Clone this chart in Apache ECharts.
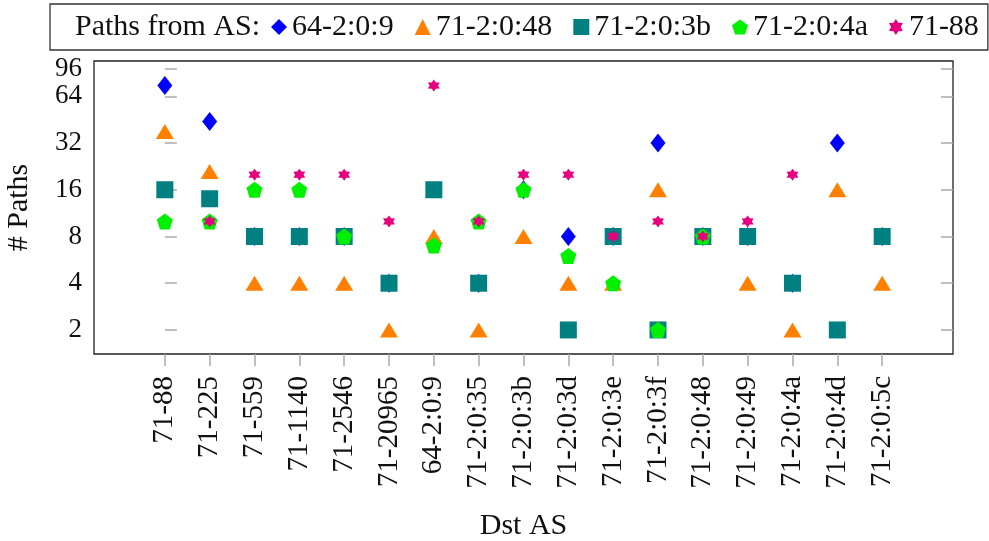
<!DOCTYPE html>
<html>
<head>
<meta charset="utf-8">
<script src="https://cdn.jsdelivr.net/npm/echarts@6/dist/echarts.min.js"></script>
<style>html,body{margin:0;padding:0;background:#fff}#c{width:989px;height:541px}</style>
</head>
<body>
<div id="c"></div>
<script>
const categories = ['71-88','71-225','71-559','71-1140','71-2546','71-20965','64-2:0:9','71-2:0:35','71-2:0:3b','71-2:0:3d','71-2:0:3e','71-2:0:3f','71-2:0:48','71-2:0:49','71-2:0:4a','71-2:0:4d','71-2:0:5c'];
const seriesNames = ['64-2:0:9','71-2:0:48','71-2:0:3b','71-2:0:4a','71-88'];
const from_64_2_0_9  = [75, 44, 8, 8, 8, 4, null, 4, 16, 8, 8, 32, 8, 8, 4, 32, 8];
const from_71_2_0_48 = [38, 21, 4, 4, 4, 2, 8, 2, 8, 4, 4, 16, null, 4, 2, 16, 4];
const from_71_2_0_3b = [16, 14, 8, 8, 8, 4, 16, 4, null, 2, 8, 2, 8, 8, 4, 2, 8];
const from_71_2_0_4a = [10, 10, 16, 16, 8, null, 7, 10, 16, 6, 4, 2, 8, null, null, null, null];
const from_71_88     = [null, 10, 20, 20, 20, 10, 75, 10, 20, 20, 8, 10, 8, 10, 20, null, null];
const yTicks = [2, 4, 8, 16, 32, 64, 96];

const PENTAGON = 'path://M0,-1L0.951,-0.309L0.588,0.809L-0.588,0.809L-0.951,-0.309Z';
const ASTER = 'path://M0,-1L0.3,-0.52L0.866,-0.5L0.6,0L0.866,0.5L0.3,0.52L0,1L-0.3,0.52L-0.866,0.5L-0.6,0L-0.866,-0.5L-0.3,-0.52Z';
const FONT = 'Liberation Serif';

function pts(arr){ const out=[]; arr.forEach((v,i)=>{ if(v!=null) out.push([i,v]); }); return out; }
const styles = [
  {data: from_64_2_0_9, symbol:'diamond', size:[15,19], color:'#0000ff'},
  {data: from_71_2_0_48, symbol:'triangle', size:[18,15], color:'#ff8000'},
  {data: from_71_2_0_3b, symbol:'rect', size:[17,17], color:'#008080'},
  {data: from_71_2_0_4a, symbol:PENTAGON, size:[16,16], color:'#00f000'},
  {data: from_71_88, symbol:ASTER, size:[12,12], color:'#e6007e'}
];
const chart = echarts.init(document.getElementById('c'), null, {renderer:'canvas'});
const yCommon = {
  type:'log', logBase:2, min:1.4, max:108,
  splitLine:{show:false}, axisLine:{show:false}
};
chart.setOption({
  animation:false,
  title:{text:'Paths from AS:', left:75, top:12, padding:0, textStyle:{fontFamily:FONT, fontSize:30, fontWeight:'normal', color:'#111'}},
  legend:{
    left:50, top:4, padding:[8,9,8,221], itemGap:21, itemWidth:16, itemHeight:16,
    borderColor:'#333', borderWidth:1.3,
    textStyle:{fontFamily:FONT, fontSize:30, color:'#111'},
    data: seriesNames
  },
  grid:{left:94, top:61, width:859, height:293, show:true, borderColor:'#222', borderWidth:1.3,
    containLabel:false, outerBoundsMode:'none'},
  xAxis:{
    type:'value', min:-1.58, max:17.58,
    splitLine:{show:false}, axisLine:{show:false},
    axisTick:{customValues:categories.map((c,i)=>i), inside:false, length:12, lineStyle:{color:'#aaa', width:1.5}},
    axisLabel:{customValues:categories.map((c,i)=>i), rotate:90, margin:22, fontFamily:FONT, fontSize:29, color:'#111',
      formatter:v=>categories[Math.round(v)]},
    name:'Dst AS', nameLocation:'middle', nameGap:157,
    nameTextStyle:{fontFamily:FONT, fontSize:30, color:'#111'}
  },
  yAxis:[
    Object.assign({}, yCommon, {
      position:'left',
      axisTick:{customValues:yTicks, inside:true, length:12, lineStyle:{color:'#aaa', width:1.5}},
      axisLabel:{customValues:yTicks, margin:12, fontFamily:FONT, fontSize:27, color:'#111',
        hideOverlap:false, showMaxLabel:true, showMinLabel:true},
      name:'# Paths', nameLocation:'middle', nameGap:60, nameRotate:90,
      nameTextStyle:{fontFamily:FONT, fontSize:30, color:'#111'}
    }),
    Object.assign({}, yCommon, {
      position:'right',
      axisTick:{customValues:yTicks, inside:true, length:12, lineStyle:{color:'#aaa', width:1.5}},
      axisLabel:{show:false}
    })
  ],
  series: styles.map((s,k)=>({
    name: seriesNames[k], type:'scatter', yAxisIndex:0,
    symbol:s.symbol, symbolSize:s.size,
    itemStyle:{color:s.color, opacity:1},
    data: pts(s.data), z:2+k
  }))
});
</script>
</body>
</html>
